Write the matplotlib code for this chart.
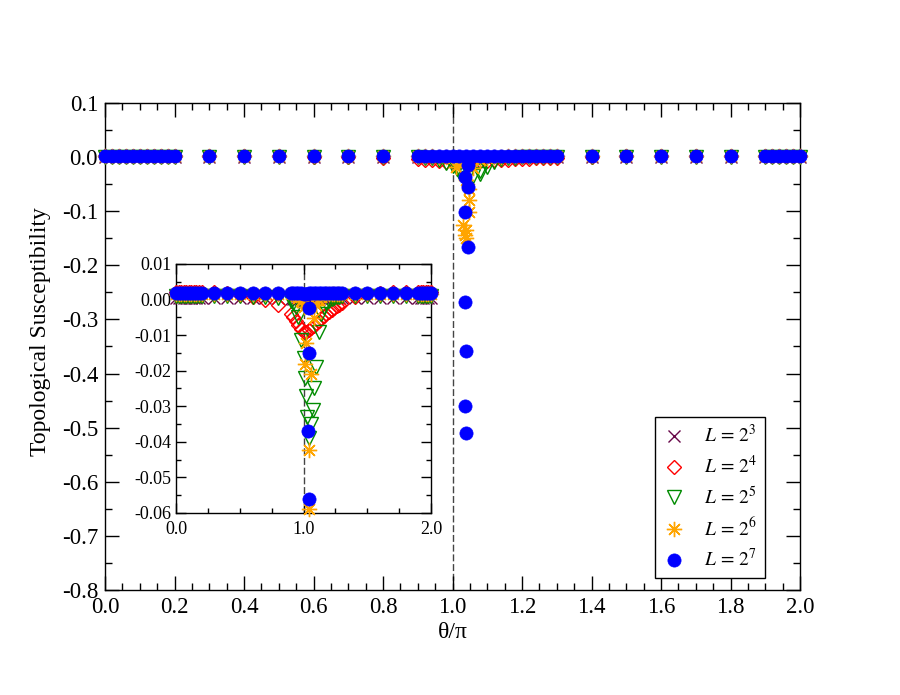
import numpy as np
import matplotlib
matplotlib.use('Agg')
import matplotlib.pyplot as plt
from matplotlib.ticker import MultipleLocator, FormatStrFormatter

plt.rcParams['font.family'] = ['Liberation Serif', 'DejaVu Serif']
plt.rcParams['mathtext.fontset'] = 'stix'
plt.rcParams['axes.unicode_minus'] = False

# ---------------- data ----------------
theta = [0.00, 0.02, 0.04, 0.06, 0.08, 0.10, 0.12, 0.14, 0.16, 0.18, 0.20,
         0.30, 0.40, 0.50, 0.60, 0.70, 0.80,
         0.90, 0.92, 0.94, 0.96, 0.98, 1.00, 1.02, 1.04, 1.06, 1.08, 1.10,
         1.12, 1.14, 1.16, 1.18, 1.20, 1.22, 1.24, 1.26, 1.28, 1.30,
         1.40, 1.50, 1.60, 1.70, 1.80,
         1.90, 1.92, 1.94, 1.96, 1.98, 2.00]

chi_L8 = [0.0003, 0.0003, 0.0003, 0.0003, 0.0003, 0.0003, 0.0003, 0.0003, 0.0003, 0.0003, 0.0003,
          0.0003, 0.0003, 0.0003, 0.0003, 0.0003, 0.0003,
          0.0002, 0.0002, 0.0001, 0.0000, -0.0002, -0.0003, -0.0002, -0.0001, 0.0000, 0.0001, 0.0002,
          0.0002, 0.0003, 0.0003, 0.0003, 0.0003, 0.0003, 0.0003, 0.0003, 0.0003, 0.0003,
          0.0003, 0.0003, 0.0003, 0.0003, 0.0003,
          0.0003, 0.0003, 0.0003, 0.0003, 0.0003, 0.0003]

chi_L16 = [0.0022, 0.0022, 0.0022, 0.0022, 0.0022, 0.0022, 0.0022, 0.0022, 0.0022, 0.0022, 0.0022,
           0.0021, 0.0018, 0.0012, 0.0006, 0.0000, -0.0015,
           -0.0040, -0.0050, -0.0060, -0.0072, -0.0083, -0.0092, -0.0090, -0.0086, -0.0080, -0.0074, -0.0067,
           -0.0060, -0.0053, -0.0047, -0.0041, -0.0035, -0.0029, -0.0024, -0.0019, -0.0014, -0.0009,
           0.0006, 0.0015, 0.0019, 0.0021, 0.0022,
           0.0022, 0.0022, 0.0022, 0.0022, 0.0022, 0.0022]

chi_L32 = [0.0010, 0.0010, 0.0010, 0.0010, 0.0010, 0.0010, 0.0010, 0.0010, 0.0010, 0.0010, 0.0010,
           0.0010, 0.0010, 0.0009, 0.0008, 0.0006, 0.0003,
           -0.0005, -0.0010, -0.0020, -0.0048, -0.0114, -0.0165, -0.0270, -0.0390, -0.0350, -0.0250, -0.0190,
           -0.0090, -0.0040, -0.0020, -0.0010, -0.0003, 0.0002, 0.0005, 0.0007, 0.0008, 0.0009,
           0.0010, 0.0010, 0.0010, 0.0010, 0.0010,
           0.0010, 0.0010, 0.0010, 0.0010, 0.0010, 0.0010]
theta_L32_extra = [1.012, 1.028, 1.078]
chi_L32_extra = [-0.022, -0.033, -0.031]

chi_L64 = [0.0015, 0.0015, 0.0015, 0.0015, 0.0015, 0.0015, 0.0015, 0.0015, 0.0015, 0.0015, 0.0015,
           0.0015, 0.0015, 0.0015, 0.0015, 0.0015, 0.0015,
           0.0015, 0.0015, 0.0012, 0.0005, -0.0005, -0.0020, -0.0123, -0.0423, -0.0209, -0.0053, -0.0015,
           0.0000, 0.0008, 0.0012, 0.0015, 0.0015, 0.0015, 0.0015, 0.0015, 0.0015, 0.0015,
           0.0015, 0.0015, 0.0015, 0.0015, 0.0015,
           0.0015, 0.0015, 0.0015, 0.0015, 0.0015, 0.0015]
theta_L64_extra = [1.010, 1.046, 1.046, 1.046, 1.031, 1.040, 1.036, 1.040]
chi_L64_extra = [-0.018, -0.059, -0.079, -0.101, -0.126, -0.135, -0.144, -0.150]

chi_L128 = [0.0018, 0.0018, 0.0018, 0.0018, 0.0018, 0.0018, 0.0018, 0.0018, 0.0018, 0.0018, 0.0018,
            0.0018, 0.0018, 0.0018, 0.0018, 0.0018, 0.0018,
            0.0018, 0.0018, 0.0018, 0.0018, 0.0018, 0.0016, 0.0016, 0.0018, 0.0018, 0.0018, 0.0018,
            0.0018, 0.0018, 0.0018, 0.0018, 0.0018, 0.0018, 0.0018, 0.0018, 0.0018, 0.0018,
            0.0018, 0.0018, 0.0018, 0.0018, 0.0018,
            0.0018, 0.0018, 0.0018, 0.0018, 0.0018, 0.0018]
theta_L128_extra = [1.045, 1.045, 1.035, 1.045, 1.035, 1.045, 1.035, 1.040, 1.035, 1.038]
chi_L128_extra = [-0.0024, -0.0151, -0.037, -0.056, -0.102, -0.166, -0.268, -0.358, -0.460, -0.509]

labels = [r'$L\,=\,2^{3}$', r'$L\,=\,2^{4}$', r'$L\,=\,2^{5}$', r'$L\,=\,2^{6}$', r'$L\,=\,2^{7}$']

series = [
    (theta, chi_L8),
    (theta, chi_L16),
    (theta + theta_L32_extra, chi_L32 + chi_L32_extra),
    (theta + theta_L64_extra, chi_L64 + chi_L64_extra),
    (theta + theta_L128_extra, chi_L128 + chi_L128_extra),
]

styles = [
    dict(marker='x', ms=8, mec='#670748', mfc='none', mew=1.0),
    dict(marker='D', ms=7, mec='#ff0000', mfc='none', mew=1.0),
    dict(marker='v', ms=10, mec='#008b00', mfc='none', mew=1.0),
    dict(marker=(8, 2, 0), ms=11, mec='#ffa500', mfc='none', mew=1.0),
    dict(marker='o', ms=9.5, mec='#0000ff', mfc='#0000ff', mew=0.5),
]

# ---------------- figure ----------------
fig = plt.figure(figsize=(9, 6.95), dpi=100)
ax = fig.add_axes([0.1167, 0.1511, 0.7722, 0.7007])

ax.axvline(1.0, color='#444444', lw=1.0, ls=(0, (5, 2)), zorder=1)
for (x, y), st, lab in zip(series, styles, labels):
    ax.plot(x, y, ls='none', label=lab, clip_on=False, zorder=3, **st)

ax.set_xlim(0.0, 2.0)
ax.set_ylim(-0.8, 0.1)
ax.xaxis.set_major_locator(MultipleLocator(0.2))
ax.xaxis.set_minor_locator(MultipleLocator(0.05))
ax.yaxis.set_major_locator(MultipleLocator(0.1))
ax.yaxis.set_minor_locator(MultipleLocator(0.05))
ax.xaxis.set_major_formatter(FormatStrFormatter('%.1f'))
ax.yaxis.set_major_formatter(FormatStrFormatter('%.1f'))
ax.tick_params(which='both', direction='in', top=True, right=True, width=1.0)
ax.tick_params(which='major', length=10, labelsize=16.5, pad=5)
ax.tick_params(which='minor', length=5)
for s in ax.spines.values():
    s.set_linewidth(1.0)

ax.set_xlabel('θ/π', fontsize=17, labelpad=3)
ax.set_ylabel('Topological Susceptibility', fontsize=17)
ax.yaxis.set_label_coords(-0.078, 0.53)

leg = ax.legend(loc='upper right', bbox_to_anchor=(0.949, 0.356), fontsize=14,
                numpoints=1, frameon=True, fancybox=False, framealpha=1,
                edgecolor='black', handlelength=1.2, handletextpad=0.9,
                borderpad=0.4, labelspacing=0.45, borderaxespad=0)
leg.get_frame().set_linewidth(1.0)

# ---------------- inset ----------------
axin = fig.add_axes([0.1956, 0.2619, 0.2833, 0.3583])
axin.set_facecolor('white')
axin.axvline(1.0, color='#444444', lw=1.0, ls=(0, (5, 2)), zorder=1)
ylo, yhi = -0.06, 0.01
for (x, y), st in zip(series, styles):
    xa = np.asarray(x)
    ya = np.asarray(y)
    m = (ya >= ylo - 0.0005) & (ya <= yhi)
    axin.plot(xa[m], ya[m], ls='none', clip_on=False, zorder=3, **st)

axin.set_xlim(0.0, 2.0)
axin.set_ylim(ylo, yhi)
axin.xaxis.set_major_locator(MultipleLocator(1.0))
axin.xaxis.set_minor_locator(MultipleLocator(0.25))
axin.yaxis.set_major_locator(MultipleLocator(0.01))
axin.yaxis.set_minor_locator(MultipleLocator(0.005))
axin.xaxis.set_major_formatter(FormatStrFormatter('%.1f'))
axin.yaxis.set_major_formatter(FormatStrFormatter('%.2f'))
axin.tick_params(which='both', direction='in', top=True, right=True, width=1.0)
axin.tick_params(which='major', length=7, labelsize=13)
axin.tick_params(axis='y', pad=3)
axin.tick_params(axis='x', pad=6)
axin.tick_params(which='minor', length=3.5)
for s in axin.spines.values():
    s.set_linewidth(1.0)

fig.savefig('out.png', dpi=100)
